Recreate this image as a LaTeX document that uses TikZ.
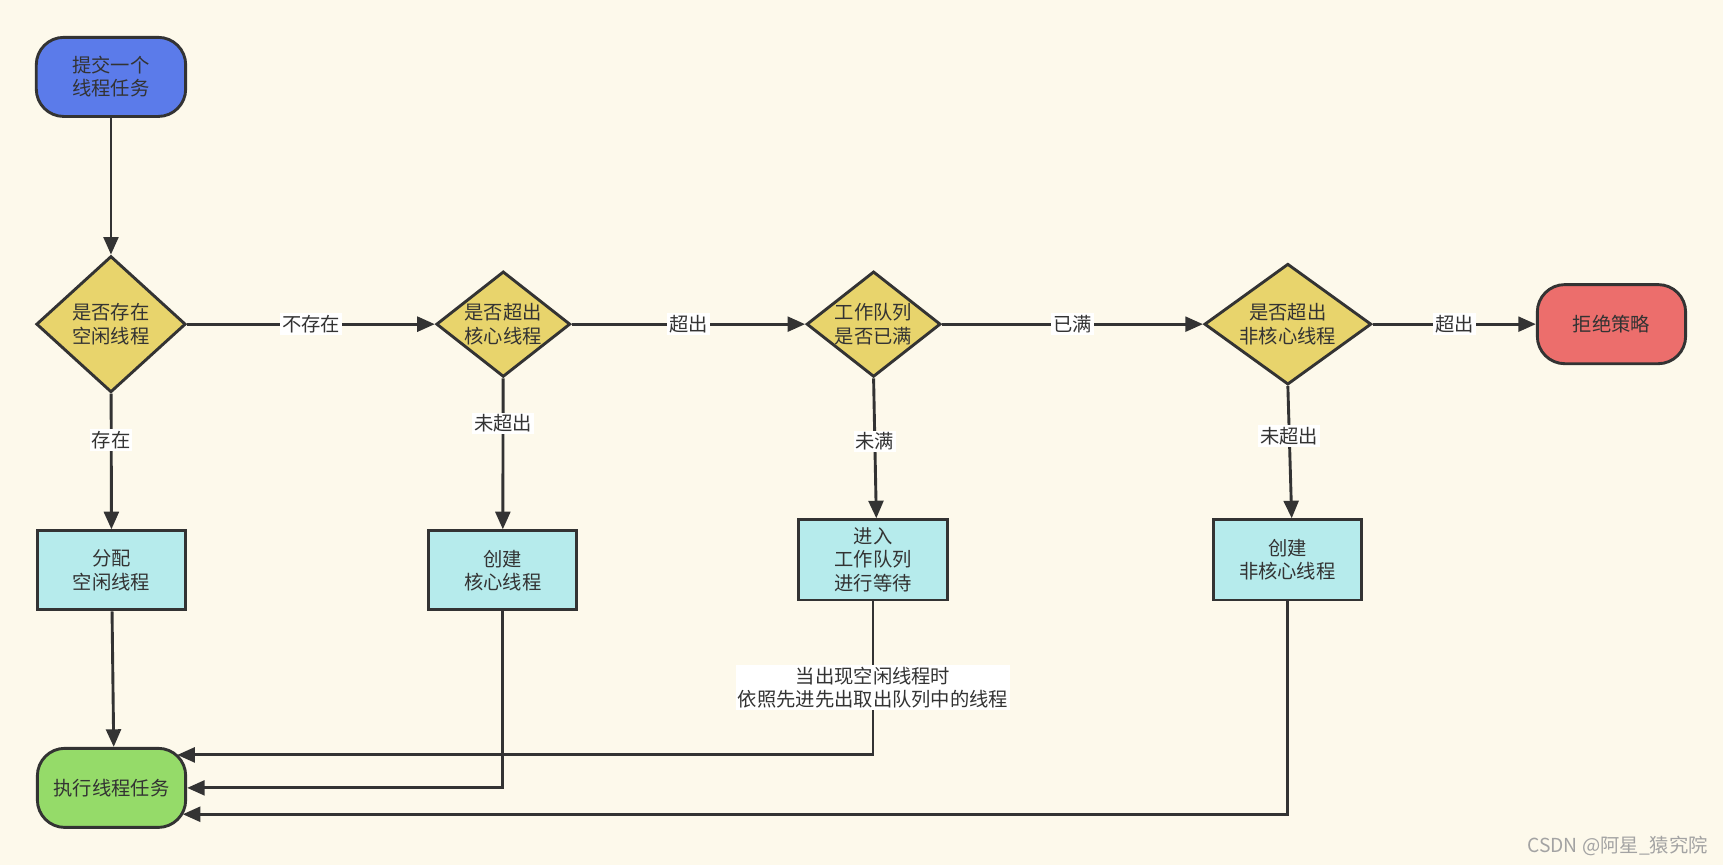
\documentclass[tikz,border=0pt]{standalone}
\usepackage{fontspec}
\setmainfont{Noto Sans CJK SC}
\usetikzlibrary{arrows.meta, shapes.geometric}

\definecolor{bgcol}{HTML}{FDF9EB}
\definecolor{linecol}{HTML}{333333}
\definecolor{startcol}{HTML}{5B7BEA}
\definecolor{askcol}{HTML}{E8D46C}
\definecolor{boxcol}{HTML}{B6EBEC}
\definecolor{rejectcol}{HTML}{EC6E6C}
\definecolor{endcol}{HTML}{95DB69}
\definecolor{markcol}{HTML}{A3A3A3}

\begin{document}
\begin{tikzpicture}[x=0.02cm,y=-0.02cm,color=linecol,line width=1.5pt,
    >={Triangle[length=0.32cm,width=0.27cm]},
    font=\fontsize{10}{12}\selectfont,
    base/.style={draw=linecol,align=center,inner sep=0pt},
    terminal/.style={base,rounded corners=0.5cm,minimum width=2.72cm,minimum height=1.44cm},
    decision/.style={base,diamond,fill=askcol},
    process/.style={base,fill=boxcol,minimum width=2.7cm,minimum height=1.44cm},
    lbl/.style={fill=white,inner sep=1pt,align=center}]
  \fill[bgcol] (0,0) rectangle (1568,787);
  \useasboundingbox (0,0) rectangle (1568,787);

  \node[terminal,fill=startcol] (t_0) at (101,70) {提交一个\\线程任务};
  \node[decision,shape aspect=1.1,minimum width=2.72cm,minimum height=2.48cm] (d_1) at (101,295) {是否存在\\空闲线程};
  \node[decision,shape aspect=1.27,minimum width=2.44cm,minimum height=1.92cm] (d_2) at (458,295) {是否超出\\核心线程};
  \node[decision,shape aspect=1.27,minimum width=2.44cm,minimum height=1.92cm] (d_3) at (795,295) {工作队列\\是否已满};
  \node[decision,shape aspect=1.38,minimum width=3.04cm,minimum height=2.2cm] (d_4) at (1172,295) {是否超出\\非核心线程};
  \node[terminal,fill=rejectcol,minimum width=2.7cm] (r_0) at (1466.5,295) {拒绝策略};

  \node[process] (b_1) at (101.5,519) {分配\\空闲线程};
  \node[process] (b_2) at (457.5,519) {创建\\核心线程};
  \node[process,minimum height=1.46cm] (b_3) at (794.5,509.5) {进入\\工作队列\\进行等待};
  \node[process,minimum height=1.46cm] (b_4) at (1171.5,509.5) {创建\\非核心线程};

  \node[terminal,fill=endcol,minimum width=2.7cm] (e_0) at (101.5,717) {执行线程任务};
  \node[text=markcol] (mark) at (1472,770) {CSDN @阿星\_猿究院};

  \path[->]
    (t_0) edge (d_1)
    (d_1) edge node[lbl] {不存在} (d_2)
    (d_2) edge node[lbl] {超出} (d_3)
    (d_3) edge node[lbl] {已满} (d_4)
    (d_4) edge node[lbl] {超出} (r_0)
    (d_1) edge node[lbl,pos=0.34] {存在} (b_1)
    (d_2) edge node[lbl,pos=0.3] {未超出} (b_2)
    (d_3.south) edge node[lbl,pos=0.45] {未满} ([xshift=0.06cm]b_3.north)
    (d_4.south) edge node[lbl,pos=0.38] {未超出} ([xshift=0.08cm]b_4.north)
    (b_1) edge ([xshift=0.04cm]e_0.north);

  \draw[->] (b_2) |- (e_0);
  \draw[->] (b_3) |- node[lbl,pos=0.28] {当出现空闲线程时\\依照先进先出取出队列中的线程} ([xshift=-0.18cm,yshift=0.6cm]e_0.east);
  \draw[->] (b_4) |- ([xshift=-0.08cm,yshift=-0.48cm]e_0.east);
\end{tikzpicture}
\end{document}
